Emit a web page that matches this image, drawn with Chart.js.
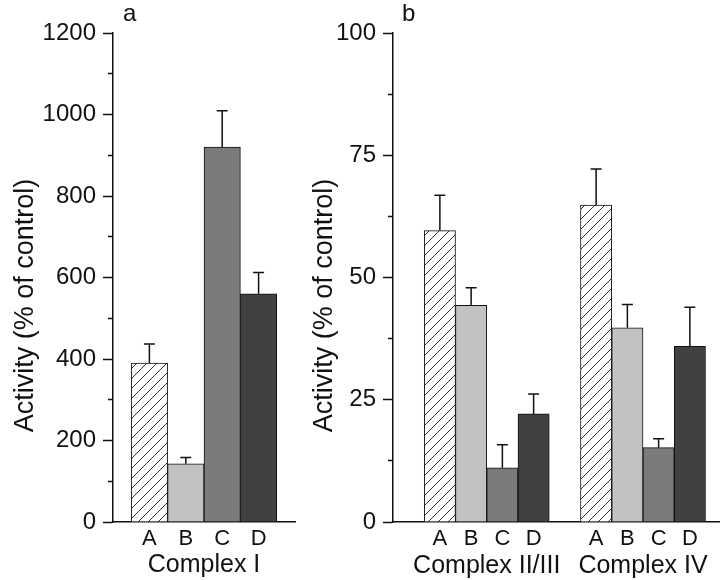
<!DOCTYPE html>
<html lang="en">
<head>
  <meta charset="UTF-8" />
  <title>Activity (% of control)</title>
  <script src="https://cdn.jsdelivr.net/npm/chart.js@4.4.1/dist/chart.umd.min.js"></script>
  <style>
    html, body { margin: 0; padding: 0; background: #fff; width: 720px; height: 580px; overflow: hidden; }
    .panel { position: absolute; top: 0; height: 580px; }
    #panelA { left: 0; width: 300px; }
    #panelB { left: 300px; width: 440px; }
  </style>
</head>
<body>
  <div class="panel" id="panelA"><canvas id="chartA"></canvas></div>
  <div class="panel" id="panelB"><canvas id="chartB"></canvas></div>

  <script>
    // values
    const treatments = ["A", "B", "C", "D"];
    const groupNames = ["Complex I", "Complex II/III", "Complex IV"];
    const complexI = [390, 143, 920, 560];
    const complexIErr = [47, 15, 89, 52];
    const complexII_III = [59.6, 44.3, 11.1, 22.1];
    const complexII_IIIErr = [7.2, 3.6, 4.7, 4.1];
    const complexIV = [64.8, 39.7, 15.2, 35.9];
    const complexIVErr = [7.4, 4.8, 1.8, 8.0];
    const ticksA = [0, 200, 400, 600, 800, 1000, 1200];
    const ticksB = [0, 25, 50, 75, 100];
    const yTitle = "Activity (% of control)";

    Chart.defaults.font.family = "'Liberation Sans', Arial, sans-serif";
    Chart.defaults.color = "#111";

    // hatched fill for treatment A
    function makeHatch() {
      const c = document.createElement("canvas");
      c.width = 10; c.height = 10;
      const g = c.getContext("2d");
      g.fillStyle = "#fff";
      g.fillRect(0, 0, 10, 10);
      g.strokeStyle = "#333";
      g.lineWidth = 1;
      g.beginPath();
      g.moveTo(0, 10); g.lineTo(10, 0);
      g.moveTo(-5, 5); g.lineTo(5, -5);
      g.moveTo(5, 15); g.lineTo(15, 5);
      g.stroke();
      return g.createPattern(c, "repeat");
    }
    const fills = [makeHatch(), "#c2c2c2", "#7b7b7b", "#414141"];

    // error bars (upper only)
    const errorBars = {
      id: "errorBars",
      afterDatasetsDraw(chart) {
        const ctx = chart.ctx;
        const y = chart.scales.y;
        chart.data.datasets.forEach((ds, di) => {
          chart.getDatasetMeta(di).data.forEach((bar, i) => {
            const v = ds.data[i], e = ds.errors[i];
            if (v == null || e == null) return;
            const top = y.getPixelForValue(v + e);
            ctx.save();
            ctx.strokeStyle = "#111";
            ctx.lineWidth = 1.5;
            ctx.beginPath();
            ctx.moveTo(bar.x, bar.y);
            ctx.lineTo(bar.x, top);
            ctx.moveTo(bar.x - 5.5, top);
            ctx.lineTo(bar.x + 5.5, top);
            ctx.stroke();
            ctx.restore();
          });
        });
      }
    };

    // panel letter + rotated y title
    const panelText = {
      id: "panelText",
      afterDraw(chart, args, opts) {
        const { ctx, chartArea } = chart;
        ctx.save();
        ctx.fillStyle = "#111";
        ctx.font = "24px 'Liberation Sans', Arial, sans-serif";
        ctx.textAlign = "left";
        ctx.textBaseline = "alphabetic";
        ctx.fillText(opts.letter, opts.letterX, 21);
        ctx.translate(opts.titleX, (chartArea.top + chartArea.bottom) / 2 + opts.shift);
        ctx.rotate(-Math.PI / 2);
        ctx.font = "27px 'Liberation Sans', Arial, sans-serif";
        ctx.textAlign = "center";
        ctx.textBaseline = "middle";
        ctx.fillText(opts.title, 0, 0);
        ctx.restore();
      }
    };

    function yScale(max, step, majors, width) {
      return {
        min: 0,
        max: max,
        afterFit: (s) => { s.width = width; },
        border: { color: "#111", width: 1.5 },
        grid: {
          drawOnChartArea: false,
          tickLength: 10,
          tickColor: "#111",
          tickWidth: 1.5,
          tickBorderDash: (c) => (c.tick && !majors.includes(c.tick.value) ? [0, 5, 20] : [])
        },
        ticks: {
          stepSize: step,
          autoSkip: false,
          padding: 7,
          font: { size: 24 },
          callback: (v) => (majors.includes(v) ? v : "")
        }
      };
    }

    const xBase = {
      border: { color: "#111", width: 1.5 },
      grid: { display: false, drawTicks: false },
      ticks: { autoSkip: false, maxRotation: 0, padding: 4, font: { size: 22 } }
    };

    // panel a
    new Chart(document.getElementById("chartA"), {
      type: "bar",
      data: {
        labels: ["", ...treatments, ""],
        datasets: [{
          data: [null, ...complexI, null],
          errors: [null, ...complexIErr, null],
          backgroundColor: ["#fff", ...fills, "#fff"],
          borderColor: "#111",
          borderWidth: 1,
          categoryPercentage: 1,
          barPercentage: 1
        }]
      },
      options: {
        responsive: true,
        maintainAspectRatio: false,
        animation: false,
        layout: { padding: { top: 33, right: 5, left: 0, bottom: 0 } },
        plugins: {
          legend: { display: false },
          tooltip: { enabled: false },
          panelText: { letter: "a", letterX: 123, title: yTitle, titleX: 26, shift: 28 }
        },
        scales: {
          x: {
            ...xBase,
            offset: false,
            afterFit: (s) => { s.height = 58; },
            title: { display: true, text: groupNames[0], font: { size: 25 }, padding: 0 }
          },
          y: yScale(1200, 100, ticksA, 113)
        }
      },
      plugins: [errorBars, panelText]
    });

    // panel b
    const groupLabels = Array(12).fill("");
    groupLabels[3] = groupNames[1];
    groupLabels[8] = groupNames[2];

    new Chart(document.getElementById("chartB"), {
      type: "bar",
      data: {
        labels: ["", ...treatments, "", ...treatments, ""],
        datasets: [{
          data: [null, ...complexII_III, null, ...complexIV, null],
          errors: [null, ...complexII_IIIErr, null, ...complexIVErr, null],
          backgroundColor: ["#fff", ...fills, "#fff", ...fills, "#fff"],
          borderColor: "#111",
          borderWidth: 1,
          categoryPercentage: 1,
          barPercentage: 1
        }]
      },
      options: {
        responsive: true,
        maintainAspectRatio: false,
        animation: false,
        layout: { padding: { top: 33, right: 3.25, left: 0, bottom: 0 } },
        plugins: {
          legend: { display: false },
          tooltip: { enabled: false },
          panelText: { letter: "b", letterX: 102, title: yTitle, titleX: 25, shift: 28 }
        },
        scales: {
          x: {
            ...xBase,
            offset: true,
            weight: 0,
            afterFit: (s) => { s.height = 29; }
          },
          x2: {
            type: "category",
            position: "bottom",
            labels: groupLabels,
            offset: false,
            weight: 1,
            afterFit: (s) => { s.height = 29; },
            border: { display: false },
            grid: { display: false, drawTicks: false },
            ticks: { autoSkip: false, maxRotation: 0, padding: 0, font: { size: 25 } }
          },
          y: yScale(100, 12.5, ticksB, 93)
        }
      },
      plugins: [errorBars, panelText]
    });
  </script>
</body>
</html>
